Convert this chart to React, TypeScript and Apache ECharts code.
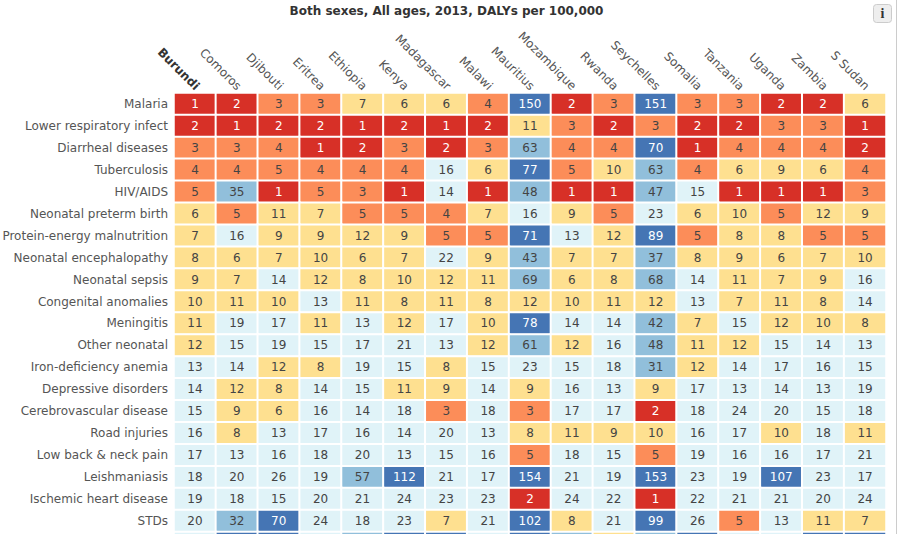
import React, { useEffect, useRef } from "react";
import * as echarts from "echarts";

const TITLE = "Both sexes, All ages, 2013, DALYs per 100,000";

const countries = ["Burundi", "Comoros", "Djibouti", "Eritrea", "Ethiopia", "Kenya", "Madagascar", "Malawi", "Mauritius", "Mozambique", "Rwanda", "Seychelles", "Somalia", "Tanzania", "Uganda", "Zambia", "S Sudan"];

const causes = ["Malaria", "Lower respiratory infect", "Diarrheal diseases", "Tuberculosis", "HIV/AIDS", "Neonatal preterm birth", "Protein-energy malnutrition", "Neonatal encephalopathy", "Neonatal sepsis", "Congenital anomalies", "Meningitis", "Other neonatal", "Iron-deficiency anemia", "Depressive disorders", "Cerebrovascular disease", "Road injuries", "Low back & neck pain", "Leishmaniasis", "Ischemic heart disease", "STDs", ""];

const malaria = [1, 2, 3, 3, 7, 6, 6, 4, 150, 2, 3, 151, 3, 3, 2, 2, 6];
const lowerRespiratory = [2, 1, 2, 2, 1, 2, 1, 2, 11, 3, 2, 3, 2, 2, 3, 3, 1];
const diarrheal = [3, 3, 4, 1, 2, 3, 2, 3, 63, 4, 4, 70, 1, 4, 4, 4, 2];
const tuberculosis = [4, 4, 5, 4, 4, 4, 16, 6, 77, 5, 10, 63, 4, 6, 9, 6, 4];
const hivAids = [5, 35, 1, 5, 3, 1, 14, 1, 48, 1, 1, 47, 15, 1, 1, 1, 3];
const pretermBirth = [6, 5, 11, 7, 5, 5, 4, 7, 16, 9, 5, 23, 6, 10, 5, 12, 9];
const malnutrition = [7, 16, 9, 9, 12, 9, 5, 5, 71, 13, 12, 89, 5, 8, 8, 5, 5];
const encephalopathy = [8, 6, 7, 10, 6, 7, 22, 9, 43, 7, 7, 37, 8, 9, 6, 7, 10];
const sepsis = [9, 7, 14, 12, 8, 10, 12, 11, 69, 6, 8, 68, 14, 11, 7, 9, 16];
const congenital = [10, 11, 10, 13, 11, 8, 11, 8, 12, 10, 11, 12, 13, 7, 11, 8, 14];
const meningitis = [11, 19, 17, 11, 13, 12, 17, 10, 78, 14, 14, 42, 7, 15, 12, 10, 8];
const otherNeonatal = [12, 15, 19, 15, 17, 21, 13, 12, 61, 12, 16, 48, 11, 12, 15, 14, 13];
const ironDeficiency = [13, 14, 12, 8, 19, 15, 8, 15, 23, 15, 18, 31, 12, 14, 17, 16, 15];
const depressive = [14, 12, 8, 14, 15, 11, 9, 14, 9, 16, 13, 9, 17, 13, 14, 13, 19];
const cerebrovascular = [15, 9, 6, 16, 14, 18, 3, 18, 3, 17, 17, 2, 18, 24, 20, 15, 18];
const roadInjuries = [16, 8, 13, 17, 16, 14, 20, 13, 8, 11, 9, 10, 16, 17, 10, 18, 11];
const lowBack = [17, 13, 16, 18, 20, 13, 15, 16, 5, 18, 15, 5, 19, 16, 16, 17, 21];
const leishmaniasis = [18, 20, 26, 19, 57, 112, 21, 17, 154, 21, 19, 153, 23, 19, 107, 23, 17];
const ischemic = [19, 18, 15, 20, 21, 24, 23, 23, 2, 24, 22, 1, 22, 21, 21, 20, 24];
const stds = [20, 32, 70, 24, 18, 23, 7, 21, 102, 8, 21, 99, 26, 5, 13, 11, 7];
// The row cut off by the page's lower edge: only its top pixel shows, so these are estimates from colour alone.
const cutOffRow = [21, 90, 80, 20, 40, 80, 80, 22, 90, 40, 9, 40, 90, 20, 20, 90, 90];

const rows = [malaria, lowerRespiratory, diarrheal, tuberculosis, hivAids, pretermBirth, malnutrition, encephalopathy, sepsis, congenital, meningitis, otherNeonatal, ironDeficiency, depressive, cerebrovascular, roadInjuries, lowBack, leishmaniasis, ischemic, stds, cutOffRow];

const pieces = [
  { min: 1, max: 2, color: "#d73027" },
  { min: 3, max: 5, color: "#fc8d59" },
  { min: 6, max: 12, color: "#fee090" },
  { min: 13, max: 30, color: "#e0f3f8" },
  { min: 31, max: 69, color: "#91bfdb" },
  { min: 70, max: 1000, color: "#4575b4" },
];

const FONT = "'DejaVu Sans', Verdana, sans-serif";

export default function App() {
  const ref = useRef<HTMLDivElement>(null);
  useEffect(() => {
    document.body.style.margin = "0";
    const chart = echarts.init(ref.current!, undefined, { renderer: "svg" });
    const data: any[] = [];
    rows.forEach((row, r) =>
      row.forEach((v, c) => {
        const light = v <= 2 || v >= 70;
        data.push({
          value: [c, r, v],
          label: r === rows.length - 1 ? { show: false } : { color: light ? "#ffffff" : "#444444" },
        });
      })
    );
    chart.setOption({
      animation: false,
      textStyle: { fontFamily: FONT },
      title: {
        text: TITLE,
        left: 446.5,
        top: 5,
        padding: 0,
        textAlign: "center",
        textStyle: { fontFamily: FONT, fontSize: 12, fontWeight: "bold", color: "#333333" },
      },
      grid: [
        { left: 174, top: 93, width: 712, height: 460.95, containLabel: false, outerBoundsMode: "none" },
        // Holds only the country labels, which sit a little right of their columns' centres.
        { left: 176.5, top: 92, width: 712, height: 460.95, containLabel: false, outerBoundsMode: "none" },
      ],
      xAxis: [
        { type: "category", gridIndex: 0, data: countries, show: false },
        {
          type: "category",
          gridIndex: 1,
          position: "top",
          data: countries.map((c, i) => ({
            value: c,
            textStyle: i === 0 ? { fontWeight: "bold", color: "#333333" } : {},
          })),
          axisLine: { show: false },
          axisTick: { show: false },
          splitLine: { show: false },
          axisLabel: { interval: 0, rotate: 45, margin: 4, fontSize: 12, fontFamily: FONT, color: "#555555" },
        },
      ],
      yAxis: [
        {
          type: "category",
          gridIndex: 0,
          inverse: true,
          data: causes,
          axisLine: { show: false },
          axisTick: { show: false },
          splitLine: { show: false },
          axisLabel: { interval: 0, margin: 6, fontSize: 12, fontFamily: FONT, color: "#555555" },
        },
        { type: "category", gridIndex: 1, inverse: true, data: causes, show: false },
      ],
      visualMap: { show: false, type: "piecewise", dimension: 2, pieces, seriesIndex: 0 },
      series: [
        {
          type: "heatmap",
          xAxisIndex: 0,
          yAxisIndex: 0,
          data,
          label: { show: true, fontSize: 12, fontFamily: FONT },
          itemStyle: { borderColor: "#ffffff", borderWidth: 2 },
          emphasis: { disabled: true },
        },
      ],
      graphic: [
        { type: "line", shape: { x1: 896.5, y1: 0, x2: 896.5, y2: 534 }, style: { stroke: "#cccccc", lineWidth: 1 } },
        { type: "rect", shape: { x: 873.5, y: 4.5, width: 18, height: 18, r: 3 }, style: { fill: "#eeeeee", stroke: "#cccccc", lineWidth: 1 } },
        { type: "text", x: 882.5, y: 13.5, style: { text: "i", fill: "#333333", font: "bold 14px 'Liberation Serif', serif", align: "center", verticalAlign: "middle" } },
      ],
    });
    return () => chart.dispose();
  }, []);
  return <div ref={ref} style={{ width: 899, height: 534, overflow: "hidden" }} />;
}
